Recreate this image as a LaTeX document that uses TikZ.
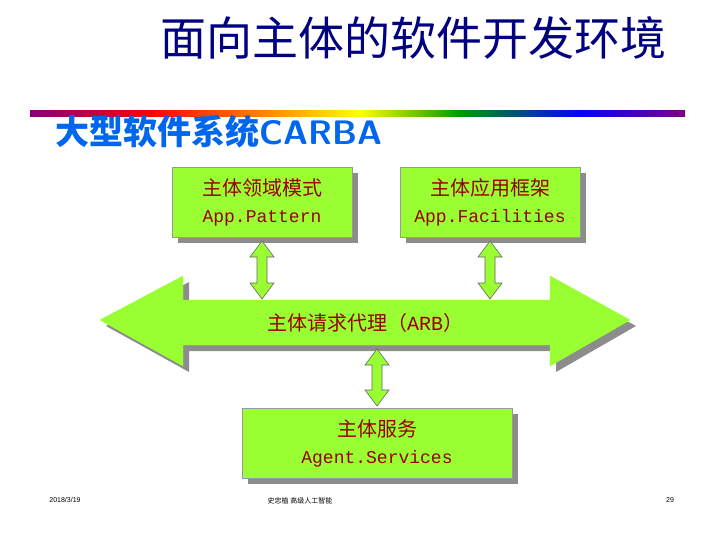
\documentclass[tikz,border=0pt]{standalone}
\usepackage{fontspec}
\setmainfont{Liberation Sans}
\newfontfamily\cjk{Noto Sans CJK SC}
\newfontfamily\mono{Liberation Mono}
\definecolor{boxgreen}{HTML}{99FF33}
\definecolor{txtred}{HTML}{990000}
\definecolor{titleblue}{HTML}{000080}
\definecolor{subblue}{HTML}{0066EE}
\begin{document}
\begin{tikzpicture}[x=1pt,y=-1pt,
  gbox/.style={draw=black!40,line width=0.5pt,fill=boxgreen,minimum width=180pt,minimum height=70pt,align=center,text=txtred,font=\cjk\fontsize{20}{27}\selectfont},
  shad/.style={fill=black!45},
  garrow/.style={fill=boxgreen,draw=black!60,line width=0.6pt},
  foot/.style={font=\fontsize{7}{8}\selectfont}]
\useasboundingbox (0,0) rectangle (720,540);
\node[font=\cjk\fontsize{46}{50}\selectfont,text=titleblue] (title) at (413,38) {面向主体的软件开发环境};
\shade[left color=violet,right color=red] (30,111) rectangle (150,117);
\shade[left color=red,right color=orange] (149.5,111) rectangle (260,117);
\shade[left color=orange,right color=yellow] (259.5,111) rectangle (360,117);
\shade[left color=yellow,right color=green!60!black] (359.5,111) rectangle (460,117);
\shade[left color=green!60!black,right color=blue] (459.5,111) rectangle (580,117);
\shade[left color=blue,right color=violet] (579.5,111) rectangle (685,117);
\node[anchor=west,font=\cjk\bfseries\fontsize{34}{38}\selectfont,text=subblue] (sub) at (52,132) {大型软件系统\textsf{\bfseries CARBA}};
% shadows
\fill[shad] (178,173) rectangle (358,243);
\fill[shad] (406,173) rectangle (586,243);
\fill[shad] (248,414) rectangle (518,484);
\fill[shad] (106,326)--(189,282)--(189,306)--(556,306)--(556,282)--(636,326)--(556,372)--(556,351)--(189,351)--(189,372)--cycle;
% big arrow
\filldraw[fill=boxgreen,draw=boxgreen] (100,320)--(183,276)--(183,300)--(550,300)--(550,276)--(630,320)--(550,366)--(550,345)--(183,345)--(183,366)--cycle;
\node[font=\cjk\fontsize{20}{24}\selectfont,text=txtred] (arb) at (365,323) {主体请求代理（{\mono ARB}）};
% boxes
\node[gbox] (b1) at (262,202) {主体领域模式\\{\mono\fontsize{18}{22}\selectfont App.Pattern}};
\node[gbox] (b2) at (490,202) {主体应用框架\\{\mono\fontsize{18}{22}\selectfont App.Facilities}};
\node[gbox,minimum width=270pt] (b3) at (377,443) {主体服务\\{\mono\fontsize{18}{22}\selectfont Agent.Services}};
% vertical double arrows
\foreach \cx/\ya/\yb in {262/241/299, 490/241/299, 377/349/406}{
  \filldraw[garrow] (\cx,\ya)--(\cx+12,\ya+16)--(\cx+5,\ya+16)--(\cx+5,\yb-16)--(\cx+12,\yb-16)--(\cx,\yb)--(\cx-12,\yb-16)--(\cx-5,\yb-16)--(\cx-5,\ya+16)--(\cx-12,\ya+16)--cycle;
}
\node[foot] (d) at (65,500) {2018/3/19};
\node[foot,font=\cjk\fontsize{7}{8}\selectfont] (a) at (300,501) {史忠植\ 高级人工智能};
\node[foot] (p) at (670,500) {29};
\end{tikzpicture}
\end{document}
